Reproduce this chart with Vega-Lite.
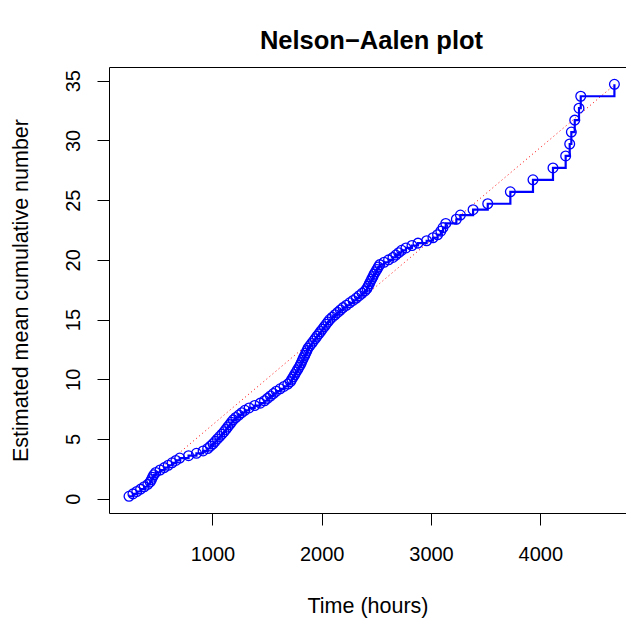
{
  "$schema": "https://vega.github.io/schema/vega-lite/v6.json",
  "width": 517,
  "height": 446,
  "autosize": {"type": "none"},
  "padding": {"left": 109, "top": 67, "right": 0, "bottom": 108},
  "title": {"text": "Nelson−Aalen plot", "fontSize": 25.5, "fontWeight": "bold", "font": "Liberation Sans", "anchor": "middle", "offset": 13, "dx": 4, "color": "black"},
  "config": {
    "view": {"stroke": null},
    "font": "Liberation Sans",
    "axis": {"domainColor": "black", "tickColor": "black", "labelColor": "black", "titleColor": "black", "labelFontSize": 20, "titleFontSize": 21.5, "titleFontWeight": "normal", "tickSize": 12, "grid": false, "labelFont": "Liberation Sans", "titleFont": "Liberation Sans", "domainWidth": 1, "tickWidth": 1}
  },
  "datasets": {
    "events": [
      {"time": 237, "mcf": 0.2}, {"time": 273, "mcf": 0.4}, {"time": 308, "mcf": 0.6}, {"time": 343, "mcf": 0.8},
      {"time": 376, "mcf": 1.0}, {"time": 409, "mcf": 1.2}, {"time": 431, "mcf": 1.4}, {"time": 442, "mcf": 1.6},
      {"time": 453, "mcf": 1.8}, {"time": 464, "mcf": 2.0}, {"time": 482, "mcf": 2.2}, {"time": 521, "mcf": 2.4},
      {"time": 560, "mcf": 2.6}, {"time": 596, "mcf": 2.8}, {"time": 631, "mcf": 3.0}, {"time": 666, "mcf": 3.2},
      {"time": 701, "mcf": 3.4}, {"time": 782, "mcf": 3.6}, {"time": 854, "mcf": 3.8}, {"time": 915, "mcf": 4.0},
      {"time": 957, "mcf": 4.2}, {"time": 982, "mcf": 4.4}, {"time": 1006, "mcf": 4.6}, {"time": 1026, "mcf": 4.8},
      {"time": 1046, "mcf": 5.0}, {"time": 1066, "mcf": 5.2}, {"time": 1087, "mcf": 5.4}, {"time": 1106, "mcf": 5.6},
      {"time": 1123, "mcf": 5.8}, {"time": 1140, "mcf": 6.0}, {"time": 1157, "mcf": 6.2}, {"time": 1174, "mcf": 6.4},
      {"time": 1191, "mcf": 6.6}, {"time": 1214, "mcf": 6.8}, {"time": 1242, "mcf": 7.0}, {"time": 1269, "mcf": 7.2},
      {"time": 1297, "mcf": 7.4}, {"time": 1336, "mcf": 7.6}, {"time": 1387, "mcf": 7.8}, {"time": 1438, "mcf": 8.0},
      {"time": 1477, "mcf": 8.2}, {"time": 1504, "mcf": 8.4}, {"time": 1531, "mcf": 8.6}, {"time": 1558, "mcf": 8.8},
      {"time": 1585, "mcf": 9.0}, {"time": 1620, "mcf": 9.2}, {"time": 1655, "mcf": 9.4}, {"time": 1690, "mcf": 9.6},
      {"time": 1714, "mcf": 9.8}, {"time": 1727, "mcf": 10.0}, {"time": 1740, "mcf": 10.2}, {"time": 1753, "mcf": 10.4},
      {"time": 1766, "mcf": 10.6}, {"time": 1779, "mcf": 10.8}, {"time": 1792, "mcf": 11.0}, {"time": 1804, "mcf": 11.2},
      {"time": 1814, "mcf": 11.4}, {"time": 1824, "mcf": 11.6}, {"time": 1834, "mcf": 11.8}, {"time": 1845, "mcf": 12.0},
      {"time": 1855, "mcf": 12.2}, {"time": 1865, "mcf": 12.4}, {"time": 1875, "mcf": 12.6}, {"time": 1891, "mcf": 12.8},
      {"time": 1908, "mcf": 13.0}, {"time": 1924, "mcf": 13.2}, {"time": 1941, "mcf": 13.4}, {"time": 1957, "mcf": 13.6},
      {"time": 1974, "mcf": 13.8}, {"time": 1990, "mcf": 14.0}, {"time": 2007, "mcf": 14.2}, {"time": 2024, "mcf": 14.4},
      {"time": 2040, "mcf": 14.6}, {"time": 2057, "mcf": 14.8}, {"time": 2073, "mcf": 15.0}, {"time": 2097, "mcf": 15.2},
      {"time": 2122, "mcf": 15.4}, {"time": 2146, "mcf": 15.6}, {"time": 2171, "mcf": 15.8}, {"time": 2195, "mcf": 16.0},
      {"time": 2226, "mcf": 16.2}, {"time": 2256, "mcf": 16.4}, {"time": 2287, "mcf": 16.6}, {"time": 2317, "mcf": 16.8},
      {"time": 2343, "mcf": 17.0}, {"time": 2369, "mcf": 17.2}, {"time": 2396, "mcf": 17.4}, {"time": 2414, "mcf": 17.6},
      {"time": 2425, "mcf": 17.8}, {"time": 2436, "mcf": 18.0}, {"time": 2447, "mcf": 18.2}, {"time": 2458, "mcf": 18.4},
      {"time": 2469, "mcf": 18.6}, {"time": 2479, "mcf": 18.8}, {"time": 2492, "mcf": 19.0}, {"time": 2505, "mcf": 19.2},
      {"time": 2518, "mcf": 19.4}, {"time": 2531, "mcf": 19.6}, {"time": 2571, "mcf": 19.8}, {"time": 2612, "mcf": 20.0},
      {"time": 2652, "mcf": 20.2}, {"time": 2678, "mcf": 20.4}, {"time": 2705, "mcf": 20.6}, {"time": 2731, "mcf": 20.8},
      {"time": 2771, "mcf": 21.0}, {"time": 2826, "mcf": 21.2}, {"time": 2881, "mcf": 21.4}, {"time": 2960, "mcf": 21.6},
      {"time": 3018, "mcf": 21.85}, {"time": 3060, "mcf": 22.1}, {"time": 3090, "mcf": 22.4}, {"time": 3110, "mcf": 22.7},
      {"time": 3135, "mcf": 23.05}, {"time": 3232, "mcf": 23.4}, {"time": 3269, "mcf": 23.75}, {"time": 3385, "mcf": 24.2},
      {"time": 3519, "mcf": 24.7}, {"time": 3726, "mcf": 25.7}, {"time": 3933, "mcf": 26.7}, {"time": 4116, "mcf": 27.7},
      {"time": 4232, "mcf": 28.7}, {"time": 4269, "mcf": 29.7}, {"time": 4284, "mcf": 30.7}, {"time": 4315, "mcf": 31.7},
      {"time": 4354, "mcf": 32.7}, {"time": 4370, "mcf": 33.7}, {"time": 4678, "mcf": 34.7}
    ],
    "fit": [
      {"time": 237, "mcf": 0.27},
      {"time": 4678, "mcf": 34.65}
    ]
  },
  "resolve": {"axis": {"x": "independent"}},
  "layer": [
    {
      "data": {"name": "fit"},
      "mark": {"type": "line", "color": "red", "strokeWidth": 1, "strokeDash": [1, 3]},
      "encoding": {
        "x": {"field": "time", "type": "quantitative", "scale": {"domain": [54, 4784], "nice": false, "zero": false}, "axis": null},
        "y": {"field": "mcf", "type": "quantitative", "scale": {"domain": [-1.2, 36.15], "nice": false, "zero": false},
              "axis": {"values": [0, 5, 10, 15, 20, 25, 30, 35], "title": "Estimated mean cumulative number", "labelAngle": 270, "labelPadding": 14, "titlePadding": 31}}
      }
    },
    {
      "data": {"name": "events"},
      "mark": {"type": "line", "color": "#0000FF", "strokeWidth": 2.2, "interpolate": "step-after"},
      "encoding": {
        "x": {"field": "time", "type": "quantitative", "scale": {"domain": [54, 4784], "nice": false, "zero": false},
              "axis": {"orient": "bottom", "values": [1000, 2000, 3000, 4000], "format": "d", "title": "Time (hours)", "labelPadding": 19, "titlePadding": 31}},
        "y": {"field": "mcf", "type": "quantitative", "scale": {"domain": [-1.2, 36.15], "nice": false, "zero": false},
              "axis": {"values": [0, 5, 10, 15, 20, 25, 30, 35], "title": "Estimated mean cumulative number", "labelAngle": 270, "labelPadding": 14, "titlePadding": 31}}
      }
    },
    {
      "data": {"name": "events"},
      "mark": {"type": "point", "shape": "circle", "filled": false, "color": "#0000FF", "size": 95, "strokeWidth": 1.3, "opacity": 1},
      "encoding": {
        "x": {"field": "time", "type": "quantitative", "scale": {"domain": [54, 4784], "nice": false, "zero": false},
              "axis": {"orient": "top", "labels": false, "ticks": false, "title": null, "domain": true}},
        "y": {"field": "mcf", "type": "quantitative", "scale": {"domain": [-1.2, 36.15], "nice": false, "zero": false},
              "axis": {"values": [0, 5, 10, 15, 20, 25, 30, 35], "title": "Estimated mean cumulative number", "labelAngle": 270, "labelPadding": 14, "titlePadding": 31}}
      }
    }
  ]
}
